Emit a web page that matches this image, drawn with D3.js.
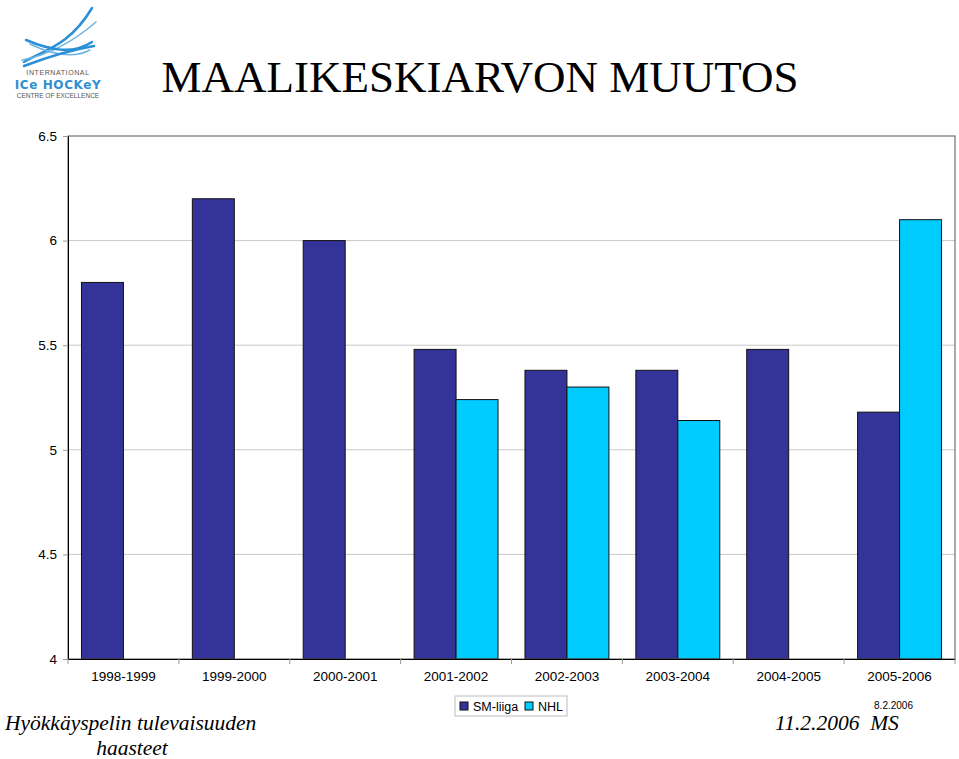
<!DOCTYPE html>
<html>
<head>
<meta charset="utf-8">
<script src="https://cdn.jsdelivr.net/npm/d3@7"></script>
<style>
  body { margin: 0; background: #fff; }
  svg { display: block; }
</style>
</head>
<body>
<svg id="chart" width="959" height="759"></svg>
<script>
const seasons = ['1998-1999', '1999-2000', '2000-2001', '2001-2002', '2002-2003', '2003-2004', '2004-2005', '2005-2006']
const smLiiga = [5.80, 6.20, 6.00, 5.48, 5.38, 5.38, 5.48, 5.18]
const nhl = [null, null, null, 5.24, 5.30, 5.14, null, 6.10]
const seriesNames = ['SM-liiga', 'NHL']
const seriesColors = ['#333399', '#00CCFF']
const yTicks = [4, 4.5, 5, 5.5, 6, 6.5]

const svg = d3.select('#chart')
const plot = { left: 68, right: 955, top: 136, bottom: 659 }

// logo
const logo = svg.append('g').attr('class', 'logo')
const swoosh = [
  'M24,62 C45,50 70,45 92,8',
  'M22,60 C50,55 75,40 96,22',
  'M26,40 C50,50 72,55 92,42',
  'M30,44 C55,56 75,58 90,50',
  'M24,66 C45,58 70,50 94,46'
]
logo.selectAll('path').data(swoosh).enter().append('path')
  .attr('d', d => d)
  .attr('fill', 'none')
  .attr('stroke', (d, i) => i % 2 ? '#6cb4e4' : '#2a8fd6')
  .attr('stroke-width', (d, i) => i % 2 ? 1.5 : 2.5)
  .attr('stroke-linecap', 'round')
logo.append('text').attr('x', 58).attr('y', 75).attr('text-anchor', 'middle')
  .attr('font-family', 'Liberation Sans, Arial').attr('font-size', 7).attr('fill', '#555')
  .attr('letter-spacing', 0.6).text('INTERNATIONAL')
logo.append('text').attr('x', 58).attr('y', 89).attr('text-anchor', 'middle')
  .attr('font-family', 'DejaVu Sans, Arial').attr('font-size', 12).attr('font-weight', 'bold')
  .attr('fill', '#2f8fd0').attr('letter-spacing', 0.6).text('ICe HOCKeY')
logo.append('text').attr('x', 58).attr('y', 98).attr('text-anchor', 'middle')
  .attr('font-family', 'Liberation Sans, Arial').attr('font-size', 6.5).attr('fill', '#555')
  .text('CENTRE OF EXCELLENCE')

// title
svg.append('text')
  .attr('x', 480).attr('y', 92)
  .attr('text-anchor', 'middle')
  .attr('font-family', 'Liberation Serif, Times New Roman, serif')
  .attr('font-size', 45)
  .attr('fill', '#000')
  .text('MAALIKESKIARVON MUUTOS')

const x = d3.scaleBand().domain(seasons).range([plot.left, plot.right]).paddingInner(0.243).paddingOuter(0.1215)
const y = d3.scaleLinear().domain([4, 6.5]).range([plot.bottom, plot.top])
const xSub = d3.scaleBand().domain(seriesNames).range([0, x.bandwidth()])

// gridlines
svg.append('g').selectAll('line').data(yTicks.slice(1, -1)).enter().append('line')
  .attr('x1', plot.left).attr('x2', plot.right)
  .attr('y1', d => y(d)).attr('y2', d => y(d))
  .attr('stroke', '#c8c8c8').attr('stroke-width', 1)

// bars
const rows = seasons.map((s, i) => ({ season: s, values: [smLiiga[i], nhl[i]] }))
const groups = svg.append('g').selectAll('g').data(rows).enter().append('g')
  .attr('transform', d => `translate(${x(d.season)},0)`)
groups.selectAll('rect')
  .data(d => d.values.map((v, k) => ({ key: seriesNames[k], value: v, k })).filter(d => d.value != null))
  .enter().append('rect')
  .attr('x', d => xSub(d.key))
  .attr('width', xSub.bandwidth())
  .attr('y', d => y(d.value))
  .attr('height', d => y(4) - y(d.value))
  .attr('fill', d => seriesColors[d.k])
  .attr('stroke', '#111')
  .attr('stroke-width', 1)

// frame
svg.append('rect')
  .attr('x', plot.left).attr('y', plot.top)
  .attr('width', plot.right - plot.left).attr('height', plot.bottom - plot.top)
  .attr('fill', 'none').attr('stroke', '#555').attr('stroke-width', 1)

// axes
const yAxis = svg.append('g')
  .attr('transform', `translate(${plot.left},0)`)
  .call(d3.axisLeft(y).tickValues(yTicks).tickSize(5).tickSizeOuter(0).tickPadding(6).tickFormat(d3.format('')))
yAxis.select('.domain').attr('stroke', '#000')
yAxis.selectAll('.tick line').attr('stroke', '#999')
yAxis.selectAll('text').attr('font-family', 'Liberation Sans, Arial').attr('font-size', 13.5).attr('fill', '#000')

const xAxis = svg.append('g')
  .attr('transform', `translate(0,${plot.bottom})`)
  .call(d3.axisBottom(x).tickSize(0).tickPadding(12))
xAxis.select('.domain').attr('stroke', '#000')
xAxis.selectAll('text').attr('font-family', 'Liberation Sans, Arial').attr('font-size', 13.5).attr('fill', '#000')
const step = x.step()
xAxis.selectAll('.sep').data(d3.range(seasons.length + 1)).enter().append('line')
  .attr('x1', i => plot.left + i * step).attr('x2', i => plot.left + i * step)
  .attr('y1', 0).attr('y2', 5).attr('stroke', '#999')

// legend
const legend = svg.append('g').attr('transform', 'translate(455,696)')
legend.append('rect').attr('width', 112).attr('height', 20)
  .attr('fill', '#fff').attr('stroke', '#bbb')
const items = [{ x: 5 }, { x: 70 }]
seriesNames.forEach((name, k) => {
  legend.append('rect').attr('x', items[k].x).attr('y', 6).attr('width', 8).attr('height', 8)
    .attr('fill', seriesColors[k]).attr('stroke', '#111')
  legend.append('text').attr('x', items[k].x + 13).attr('y', 15)
    .attr('font-family', 'Liberation Sans, Arial').attr('font-size', 12.5).text(name)
})

// footer
const serif = 'Liberation Serif, Times New Roman, serif'
svg.append('text').attr('x', 5).attr('y', 730).attr('font-family', serif).attr('font-style', 'italic')
  .attr('font-size', 21.5).text('Hyökkäyspelin tulevaisuuden')
svg.append('text').attr('x', 132).attr('y', 755).attr('text-anchor', 'middle').attr('font-family', serif)
  .attr('font-style', 'italic').attr('font-size', 21.5).text('haasteet')
svg.append('text').attr('x', 775).attr('y', 730).attr('font-family', serif).attr('font-style', 'italic')
  .attr('font-size', 21.5).attr('xml:space', 'preserve').text('11.2.2006  MS')
svg.append('text').attr('x', 913).attr('y', 709).attr('text-anchor', 'end')
  .attr('font-family', 'Liberation Sans, Arial').attr('font-size', 10).text('8.2.2006')
</script>
</body>
</html>
